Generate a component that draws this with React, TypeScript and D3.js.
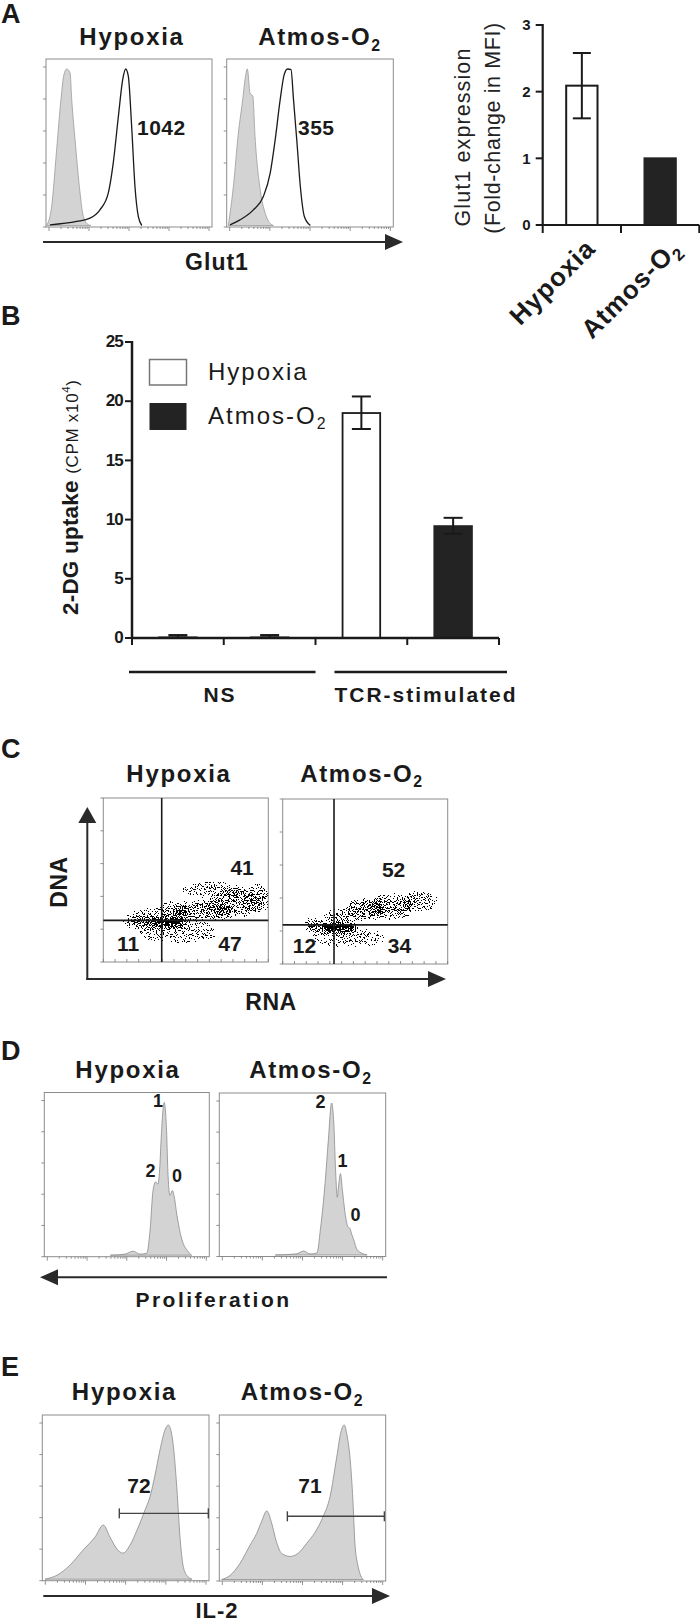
import React from "react";
import * as d3 from "d3";

const FONT = "'Liberation Sans', Arial, Helvetica, sans-serif";
const INK = "#1a1a1a";
const BAR_DARK = "#232323";
const FLOW_FILL = "#d3d3d3";

type Pt = [number, number];
type Box = [number, number, number, number];

// ================= DATA =================
const conditions = ["Hypoxia", "Atmos-O2"];

// A – Glut1 flow histograms [x: % of log axis, y: % of mode]
const glutIsotypeHypoxia: Pt[] = [[0.4, 0], [3.4, 12.1], [6.4, 48.4], [9.0, 80.4], [10.8, 96.4], [12.5, 100], [14.5, 97.6], [15.5, 80.4], [17.5, 54.8], [20.1, 24.9], [22.5, 5.8], [25.5, 0.5], [27, 0]];
const glutStainHypoxia: Pt[] = [[2.4, 0.4], [18.5, 2.6], [26.5, 4.7], [32.5, 10], [37.5, 20.7], [40.5, 39.9], [43.6, 69.7], [46.2, 93.2], [48, 100], [49.6, 95.3], [51.6, 63.3], [53.6, 24.9], [55.6, 5.8], [57.7, 0]];
const glutIsotypeAtmos: Pt[] = [[1, 0], [4, 24.9], [7, 59.1], [9.6, 80.4], [11, 93.2], [12.4, 100], [14, 84.7], [15.7, 82.5], [17, 56.9], [20.1, 22.8], [23.1, 7.9], [27.1, 0.4], [28, 0]];
const glutStainAtmos: Pt[] = [[2, 0.4], [8, 3.6], [16, 10], [22, 18.5], [26.1, 33.5], [29.1, 54.8], [32.1, 80.4], [34.5, 96.4], [36.5, 100], [38.6, 99.6], [40.1, 80.4], [42.2, 52.7], [44.2, 24.9], [46.6, 5.8], [50.2, 0]];
const glutMFI = [1042, 355];

// A – Glut1 fold change in MFI
const glutFoldChange = [2.09, 1.0];
const glutFoldLow = [1.6, 1.0];
const glutFoldHigh = [2.58, 1.0];
const glutFoldTicks = [0, 1, 2, 3];

// B – 2-DG uptake (CPM x10^4)
const uptakeBars = ["NS|Hypoxia", "NS|Atmos-O2", "TCR|Hypoxia", "TCR|Atmos-O2"];
const uptakeMean = [0.05, 0.05, 19.0, 9.45];
const uptakeLow = [0.05, 0.05, 17.65, 8.8];
const uptakeHigh = [0.25, 0.25, 20.4, 10.15];
const uptakeTicks = [0, 5, 10, 15, 20, 25];
const uptakeGroups = ["NS", "TCR-stimulated"];

// C – DNA/RNA quadrants (gate position in % of axis) and percentages
const cycleGateX = [35.4, 31.1];
const cycleGateY = [25.4, 23.7];
const cycleUpperRight = [41, 52];
const cycleLowerLeft = [11, 12];
const cycleLowerRight = [47, 34];
// density clouds [x%, y%, spread x%, spread y%, relative density]
const cycleCloudHypoxia: number[][] = [
  [39, 24.0, 11, 2.6, 2.0], [32, 24.3, 20, 3.5, 0.5], [60, 31, 18, 6, 0.5], [80, 36, 16, 8, 0.4],
  [94, 39, 7, 8, 0.3], [42, 31, 10, 5, 0.35], [24, 27, 9, 5, 0.2], [45, 18, 24, 6, 0.1], [68, 44, 20, 4, 0.2],
];
const cycleCloudAtmos: number[][] = [
  [34, 22.0, 10, 2.4, 2.0], [30, 22.3, 16, 3.3, 0.5], [50, 33, 12, 6, 0.55], [66, 35, 13, 7, 0.45],
  [83, 38, 10, 6, 0.3], [34, 29, 8, 4, 0.35], [19, 24, 6, 4, 0.2], [40, 16, 22, 5, 0.1],
];

// D – CFSE dilution histograms
const cfseHypoxia: Pt[] = [[40, 0], [48.9, 0.7], [53.8, 2.6], [58, 0.7], [62.1, 1.3], [64.1, 16.3], [65.9, 42.4], [67.5, 48], [68.9, 46.5], [70.0, 58], [70.9, 78], [72.7, 100], [74.1, 81.5], [75, 52.2], [76.2, 39.1], [77.6, 42.4], [78.6, 39.1], [80.4, 26.1], [83.5, 9.8], [86.5, 3.3], [89.3, 0]];
const cfseAtmos: Pt[] = [[33.6, 0], [46.2, 0.7], [50.6, 2.6], [54.6, 0.7], [58.7, 1.3], [60.7, 16.3], [63.7, 49], [65.5, 75], [67.5, 100], [68.7, 89], [69.9, 55.4], [70.9, 38], [71.7, 45.6], [72.8, 53.5], [74, 42.4], [75.8, 26], [77.3, 18.5], [78.5, 17.5], [79.6, 13.5], [80.8, 10], [82.9, 3.3], [88.8, 0]];
const cfseDivisions = ["1", "2", "0"];
const cfseDivisionsAtmos = ["2", "1", "0"];

// E – IL-2 histograms
const il2Hypoxia: Pt[] = [[1.6, 0], [8.8, 2.6], [16.6, 9.1], [24.4, 18.8], [31.6, 27.3], [36.6, 35.1], [40.6, 27.3], [45.4, 18.8], [48.4, 16.9], [52.6, 22.1], [56.8, 31.8], [61.6, 44.8], [64.6, 53.4], [67.6, 67.5], [70.6, 83.8], [73.6, 96.8], [75.6, 100], [78.4, 88.3], [80.8, 57.8], [82.6, 27.3], [84.4, 9.1], [86.6, 2.6], [89.8, 0]];
const il2Atmos: Pt[] = [[1.4, 0], [6.4, 2.6], [12.4, 10.4], [18.4, 22.1], [22.5, 29.9], [25.7, 38.3], [28.5, 44.4], [31.5, 36.4], [34.1, 25.3], [37.5, 16.9], [42.5, 14.9], [47.3, 16.9], [52.5, 23.4], [57.5, 30.5], [62.3, 40.5], [66.5, 53.4], [70.6, 79.4], [73.1, 95.5], [75.1, 100], [76.7, 93.5], [78.5, 79.4], [80.3, 51.3], [81.5, 23.4], [83.3, 9.1], [84.5, 3.9], [86.5, 0]];
const il2GateStart = [46.2, 40.9];
const il2GateEnd = [99.6, 99.2];
const il2GateLevel = [42.7, 40.9];
const il2Positive = [72, 71];

// ================= HELPERS =================
function histScales(b: Box) {
  const x = d3.scaleLinear().domain([0, 100]).range([b[0], b[2]]);
  const y = d3.scaleLinear().domain([0, 100]).range([b[3] - 1.5, b[1] + 10]);
  return { x, y };
}

function Frame({ b }: { b: Box }) {
  const lx = d3.scaleLog().domain([1, 1e4]).range([b[0] + 3, b[2] - 3]);
  const ly = d3.scaleLinear().domain([0, 100]).range([b[3], b[1] + 8]);
  const bt = lx.ticks();
  const lt = ly.ticks(5);
  return (
    <g>
      <rect x={b[0]} y={b[1]} width={b[2] - b[0]} height={b[3] - b[1]} fill="none" stroke="#8c8c8c" strokeWidth={1} />
      {bt.map((t, i) => {
        const lg = Math.log10(t);
        const major = Math.abs(lg - Math.round(lg)) < 1e-9;
        return <line key={"b" + i} x1={lx(t)} x2={lx(t)} y1={b[3]} y2={b[3] + (major ? 4 : 2)} stroke="#777" strokeWidth={0.8} />;
      })}
      {lt.map((t, i) => (
        <line key={"l" + i} x1={b[0] - 3} x2={b[0]} y1={ly(t)} y2={ly(t)} stroke="#777" strokeWidth={0.8} />
      ))}
    </g>
  );
}

function Arrow({ x1, y1, x2, y2, head = 18, half = 8, color = "#2a2a2a", width = 2 }: any) {
  const dx = x2 - x1, dy = y2 - y1, L = Math.hypot(dx, dy), ux = dx / L, uy = dy / L;
  const bx = x2 - ux * head, by = y2 - uy * head;
  const px = -uy, py = ux;
  return (
    <g>
      <line x1={x1} y1={y1} x2={bx + ux} y2={by + uy} stroke={color} strokeWidth={width} />
      <polygon points={`${x2},${y2} ${bx + px * half},${by + py * half} ${bx - px * half},${by - py * half}`} fill={color} />
    </g>
  );
}

function Cond({ name, x = 0, y = 0, size, weight = "bold", anchor = "middle", ls = 1.7, transform }: any) {
  const common = { x, y, fontSize: size, fontWeight: weight, textAnchor: anchor, letterSpacing: ls, fill: INK, transform };
  if (name === "Atmos-O2") {
    return (
      <text {...common}>
        <tspan>Atmos-O</tspan>
        <tspan fontSize={size * 0.66} dy={size * 0.24}>2</tspan>
      </text>
    );
  }
  return <text {...common}>{name}</text>;
}

function PanelLetter({ t, y }: { t: string; y: number }) {
  return <text x={1} y={y} fontSize={27} fontWeight="bold" fill={INK}>{t}</text>;
}

// ================= PANEL A =================
function PanelA() {
  const boxes: Box[] = [[46, 59, 212, 227], [226.7, 59, 393.3, 227]];
  const iso = [glutIsotypeHypoxia, glutIsotypeAtmos];
  const stain = [glutStainHypoxia, glutStainAtmos];
  const titleX = [132, 320];
  const mfiPos: Pt[] = [[54.8, 57.8], [42.8, 57.8]];

  const xA = d3.scaleBand().domain(conditions).range([542.7, 699.3]).paddingInner(0.6).paddingOuter(0.3);
  const yA = d3.scaleLinear().domain([0, 3]).range([225, 25]);
  const step = xA.step();
  const r0 = xA.range()[0];
  const labelDx = [15, 22];

  return (
    <g>
      <PanelLetter t="A" y={23} />
      {boxes.map((b, i) => {
        const { x, y } = histScales(b);
        const area = d3.area<Pt>().x((d) => x(d[0])).y0(y(0)).y1((d) => y(d[1])).curve(d3.curveMonotoneX);
        const line = d3.line<Pt>().x((d) => x(d[0])).y((d) => y(d[1])).curve(d3.curveMonotoneX);
        return (
          <g key={i}>
            <Cond name={conditions[i]} x={titleX[i]} y={45} size={24} />
            <path d={area(iso[i]) || ""} fill={FLOW_FILL} stroke="#9a9a9a" strokeWidth={0.8} />
            <path d={line(stain[i]) || ""} fill="none" stroke={INK} strokeWidth={1.3} />
            <Frame b={b} />
            <text x={x(mfiPos[i][0])} y={y(mfiPos[i][1])} fontSize={21} fontWeight="bold" fill={INK} letterSpacing={0.5}>{glutMFI[i]}</text>
          </g>
        );
      })}
      <Arrow x1={43} y1={242} x2={403} y2={242} head={18} half={8} />
      <text x={217} y={270} fontSize={23} fontWeight="bold" textAnchor="middle" fill={INK} letterSpacing={1}>Glut1</text>

      {/* bar chart */}
      <g>
        <text transform="translate(470,137) rotate(-90)" fontSize={21.5} textAnchor="middle" fill="#222" letterSpacing={1.1}>Glut1 expression</text>
        <text transform="translate(500,128) rotate(-90)" fontSize={21.5} textAnchor="middle" fill="#222" letterSpacing={0.6}>(Fold-change in MFI)</text>
        {conditions.map((c, i) => {
          const x0 = xA(c) as number;
          const cx = x0 + xA.bandwidth() / 2;
          return (
            <g key={c}>
              <rect x={x0} y={yA(glutFoldChange[i])} width={xA.bandwidth()} height={yA(0) - yA(glutFoldChange[i])}
                fill={i === 0 ? "#fff" : BAR_DARK} stroke={i === 0 ? INK : BAR_DARK} strokeWidth={2} />
              {glutFoldHigh[i] > glutFoldLow[i] && (
                <g stroke={INK} strokeWidth={2}>
                  <line x1={cx} x2={cx} y1={yA(glutFoldLow[i])} y2={yA(glutFoldHigh[i])} />
                  <line x1={cx - 9} x2={cx + 9} y1={yA(glutFoldHigh[i])} y2={yA(glutFoldHigh[i])} />
                  <line x1={cx - 9} x2={cx + 9} y1={yA(glutFoldLow[i])} y2={yA(glutFoldLow[i])} />
                </g>
              )}
              <Cond name={c} size={26} anchor="end" ls={1} transform={`translate(${cx + labelDx[i]},250) rotate(-45)`} />
            </g>
          );
        })}
        <line x1={r0} x2={r0} y1={yA(3) - 1} y2={yA(0) + 1} stroke={INK} strokeWidth={2.2} />
        <line x1={r0} x2={xA.range()[1]} y1={yA(0)} y2={yA(0)} stroke={INK} strokeWidth={2.2} />
        {glutFoldTicks.map((t) => (
          <g key={t}>
            <line x1={r0 - 7} x2={r0} y1={yA(t)} y2={yA(t)} stroke={INK} strokeWidth={2} />
            <text x={r0 - 12} y={yA(t)} dy="0.36em" fontSize={15} fontWeight="bold" textAnchor="end" fill={INK}>{t}</text>
          </g>
        ))}
        {d3.range(0, conditions.length + 1).map((k) => (
          <line key={k} x1={r0 + k * step} x2={r0 + k * step} y1={yA(0)} y2={yA(0) + 8} stroke={INK} strokeWidth={2} />
        ))}
      </g>
    </g>
  );
}

// ================= PANEL B =================
function PanelB() {
  const xB = d3.scaleBand().domain(uptakeBars).range([132, 499]).paddingInner(0.59).paddingOuter(0.295);
  const yB = d3.scaleLinear().domain([0, 25]).range([638, 342]);
  const r0 = xB.range()[0];
  const r1 = xB.range()[1];
  const step = xB.step();
  const groupSpan: Pt[] = [[r0 - 3, r0 + 2 * step], [r0 + 2 * step + 19, r1 + 8]];
  return (
    <g>
      <PanelLetter t="B" y={325} />
      <text transform="translate(78,615) rotate(-90)" fill={INK}>
        <tspan fontSize={22.5} fontWeight="bold" letterSpacing={0.2}>2-DG uptake </tspan>
        <tspan fontSize={17} letterSpacing={0.7}>(CPM x10</tspan>
        <tspan fontSize={11.5} dy={-8} letterSpacing={0.5}>4</tspan>
        <tspan fontSize={17} dy={8}>)</tspan>
      </text>
      {uptakeBars.map((k, i) => {
        const x0 = xB(k) as number;
        const cx = x0 + xB.bandwidth() / 2;
        const hyp = k.endsWith("Hypoxia");
        return (
          <g key={k}>
            <rect x={x0} y={yB(uptakeMean[i])} width={xB.bandwidth()} height={yB(0) - yB(uptakeMean[i])}
              fill={hyp ? "#fff" : BAR_DARK} stroke={hyp ? INK : BAR_DARK} strokeWidth={1.8} />
            <g stroke={INK} strokeWidth={2}>
              <line x1={cx} x2={cx} y1={yB(uptakeLow[i])} y2={yB(uptakeHigh[i])} />
              <line x1={cx - 9.5} x2={cx + 9.5} y1={yB(uptakeHigh[i])} y2={yB(uptakeHigh[i])} />
              <line x1={cx - 9.5} x2={cx + 9.5} y1={yB(uptakeLow[i])} y2={yB(uptakeLow[i])} />
            </g>
          </g>
        );
      })}
      <line x1={r0} x2={r0} y1={yB(25) - 1} y2={yB(0) + 1} stroke={INK} strokeWidth={2.5} />
      <line x1={r0} x2={r1} y1={yB(0)} y2={yB(0)} stroke={INK} strokeWidth={2.5} />
      {uptakeTicks.map((t) => (
        <g key={t}>
          <line x1={r0 - 7} x2={r0} y1={yB(t)} y2={yB(t)} stroke={INK} strokeWidth={2} />
          <text x={r0 - 9} y={yB(t)} dy="0.3em" fontSize={17} fontWeight="bold" textAnchor="end" fill={INK} letterSpacing={-0.8}>{t}</text>
        </g>
      ))}
      {d3.range(0, uptakeBars.length + 1).map((k) => (
        <line key={k} x1={r0 + k * step} x2={r0 + k * step} y1={yB(0)} y2={yB(0) + 7} stroke={INK} strokeWidth={2} />
      ))}
      {uptakeGroups.map((g, i) => (
        <g key={g}>
          <line x1={groupSpan[i][0]} x2={groupSpan[i][1]} y1={672} y2={672} stroke={INK} strokeWidth={2.5} />
          <text x={i === 0 ? 220 : 426} y={701.5} fontSize={21} fontWeight="bold" textAnchor="middle" fill={INK} letterSpacing={2}>{g}</text>
        </g>
      ))}
      {/* legend */}
      <rect x={149.5} y={359.5} width={37} height={25.5} fill="#fff" stroke="#777" strokeWidth={1.5} />
      <rect x={149.5} y={403} width={37} height={27} fill={BAR_DARK} />
      <Cond name="Hypoxia" x={208} y={379.5} size={24} weight="normal" anchor="start" ls={2} />
      <Cond name="Atmos-O2" x={208} y={423.5} size={24} weight="normal" anchor="start" ls={2} />
    </g>
  );
}

// ================= PANEL C =================
function PanelC() {
  const boxes: Box[] = [[103.3, 798, 268.3, 962], [282.7, 799, 447.7, 964]];
  const clouds = [cycleCloudHypoxia, cycleCloudAtmos];
  const titleX = [179, 362];
  const urPos: Pt[] = [[84.1, 52.9], [67.2, 52.9]];
  const llPos: Pt[] = [[15.0, 6.9], [13.2, 6.8]];
  const lrPos: Pt[] = [[76.8, 6.9], [70.8, 6.8]];
  return (
    <g>
      <PanelLetter t="C" y={758} />
      {boxes.map((b, i) => {
        const x = d3.scaleLinear().domain([0, 100]).range([b[0], b[2]]);
        const y = d3.scaleLinear().domain([0, 100]).range([b[3], b[1]]);
        const bottomTicks = d3.range(0, 100.01, 100 / 14);
        return (
          <g key={i}>
            <Cond name={conditions[i]} x={titleX[i]} y={781.5} size={24} />
            <clipPath id={`clipC${i}`}>
              <rect x={b[0]} y={b[1]} width={b[2] - b[0]} height={b[3] - b[1]} />
            </clipPath>
            <g clipPath={`url(#clipC${i})`}>
              <g filter="url(#speckle)">
                {clouds[i].map((c, k) => (
                  <ellipse key={k} cx={x(c[0])} cy={y(c[1])} rx={x(c[2]) - x(0)} ry={y(0) - y(c[3])} fill="#000" fillOpacity={Math.min(1, 0.25 + 0.45 * c[4])} />
                ))}
              </g>
            </g>
            <rect x={b[0]} y={b[1]} width={b[2] - b[0]} height={b[3] - b[1]} fill="none" stroke="#8c8c8c" strokeWidth={1} />
            {y.ticks(5).map((t) => (
              <line key={"l" + t} x1={b[0] - 3} x2={b[0]} y1={y(t)} y2={y(t)} stroke="#777" strokeWidth={0.8} />
            ))}
            {bottomTicks.map((t, k) => (
              <line key={"b" + k} x1={x(t)} x2={x(t)} y1={b[3]} y2={b[3] - 3} stroke="#777" strokeWidth={0.8} />
            ))}
            <line x1={x(cycleGateX[i])} x2={x(cycleGateX[i])} y1={b[1]} y2={b[3]} stroke={INK} strokeWidth={1.6} />
            <line x1={b[0]} x2={b[2]} y1={y(cycleGateY[i])} y2={y(cycleGateY[i])} stroke={INK} strokeWidth={1.6} />
            <text x={x(urPos[i][0])} y={y(urPos[i][1])} fontSize={21} fontWeight="bold" textAnchor="middle" fill={INK}>{cycleUpperRight[i]}</text>
            <text x={x(llPos[i][0])} y={y(llPos[i][1])} fontSize={21} fontWeight="bold" textAnchor="middle" fill={INK}>{cycleLowerLeft[i]}</text>
            <text x={x(lrPos[i][0])} y={y(lrPos[i][1])} fontSize={21} fontWeight="bold" textAnchor="middle" fill={INK}>{cycleLowerRight[i]}</text>
          </g>
        );
      })}
      <Arrow x1={87.3} y1={980} x2={87.3} y2={807} head={16} half={9} />
      <Arrow x1={86.3} y1={979} x2={446} y2={979} head={18} half={8} />
      <text transform="translate(67,882) rotate(-90)" fontSize={23} fontWeight="bold" textAnchor="middle" fill={INK} letterSpacing={0.5}>DNA</text>
      <text x={271} y={1010} fontSize={23} fontWeight="bold" textAnchor="middle" fill={INK} letterSpacing={0.5}>RNA</text>
    </g>
  );
}

// ================= PANEL D =================
function PanelD() {
  const boxes: Box[] = [[44.3, 1092.5, 209.3, 1256.7], [219.3, 1093, 385.7, 1256.5]];
  const series = [cfseHypoxia, cfseAtmos];
  const labels = [cfseDivisions, cfseDivisionsAtmos];
  const labelPos: Pt[][] = [
    [[68.9, 96.9], [64.4, 51.4], [80.4, 48.1]],
    [[60.8, 96.5], [74.0, 57.7], [81.9, 22.4]],
  ];
  const titleX = [128, 311];
  return (
    <g>
      <PanelLetter t="D" y={1060} />
      {boxes.map((b, i) => {
        const { x, y } = histScales(b);
        const area = d3.area<Pt>().x((d) => x(d[0])).y0(y(0)).y1((d) => y(d[1])).curve(d3.curveMonotoneX);
        return (
          <g key={i}>
            <Cond name={conditions[i]} x={titleX[i]} y={1078} size={24} />
            <path d={area(series[i]) || ""} fill={FLOW_FILL} stroke="#8a8a8a" strokeWidth={0.8} />
            <Frame b={b} />
            {labels[i].map((t, k) => (
              <text key={k} x={x(labelPos[i][k][0])} y={y(labelPos[i][k][1])} fontSize={18} fontWeight="bold" textAnchor="middle" fill={INK}>{t}</text>
            ))}
          </g>
        );
      })}
      <Arrow x1={387} y1={1277.3} x2={40} y2={1277.3} head={18} half={8} />
      <text x={213.5} y={1306.5} fontSize={21} fontWeight="bold" textAnchor="middle" fill={INK} letterSpacing={2.5}>Proliferation</text>
    </g>
  );
}

// ================= PANEL E =================
function PanelE() {
  const boxes: Box[] = [[42.3, 1415, 209, 1580.7], [219.3, 1415, 385.7, 1581]];
  const series = [il2Hypoxia, il2Atmos];
  const labelPos: Pt[] = [[58.0, 55.7], [54.5, 55.7]];
  const titleX = [124.5, 302.5];
  return (
    <g>
      <PanelLetter t="E" y={1376} />
      {boxes.map((b, i) => {
        const { x, y } = histScales(b);
        const area = d3.area<Pt>().x((d) => x(d[0])).y0(y(0)).y1((d) => y(d[1])).curve(d3.curveMonotoneX);
        const gy = y(il2GateLevel[i]);
        return (
          <g key={i}>
            <Cond name={conditions[i]} x={titleX[i]} y={1400} size={24} />
            <path d={area(series[i]) || ""} fill={FLOW_FILL} stroke="#8a8a8a" strokeWidth={0.8} />
            <Frame b={b} />
            <g stroke="#444" strokeWidth={1.4}>
              <line x1={x(il2GateStart[i])} x2={x(il2GateEnd[i])} y1={gy} y2={gy} />
              <line x1={x(il2GateStart[i])} x2={x(il2GateStart[i])} y1={gy - 5} y2={gy + 5} />
              <line x1={x(il2GateEnd[i])} x2={x(il2GateEnd[i])} y1={gy - 5} y2={gy + 5} />
            </g>
            <text x={x(labelPos[i][0])} y={y(labelPos[i][1])} fontSize={21} fontWeight="bold" textAnchor="middle" fill={INK}>{il2Positive[i]}</text>
          </g>
        );
      })}
      <Arrow x1={43.3} y1={1596} x2={390} y2={1596} head={18} half={8} />
      <text x={217} y={1618} fontSize={22} fontWeight="bold" textAnchor="middle" fill={INK} letterSpacing={1}>IL-2</text>
    </g>
  );
}

export default function App() {
  return (
    <svg width={700} height={1624} viewBox="0 0 700 1624" fontFamily={FONT}
      style={{ position: "absolute", left: 0, top: 0, display: "block", background: "#fff" }}>
      <defs>
        <filter id="speckle" filterUnits="userSpaceOnUse" x={0} y={0} width={700} height={1624} colorInterpolationFilters="sRGB">
          <feTurbulence type="fractalNoise" baseFrequency={0.85} numOctaves={2} seed={7} result="noise" />
          <feColorMatrix in="noise" type="matrix" values="0 0 0 0 0  0 0 0 0 0  0 0 0 0 0  3 0 0 0 -1" result="n" />
          <feGaussianBlur in="SourceAlpha" stdDeviation={2} result="dens" />
          <feComposite in="dens" in2="n" operator="arithmetic" k1={0} k2={6} k3={-6} k4={0} result="diff" />
          <feComponentTransfer in="diff">
            <feFuncA type="discrete" tableValues="0 1" />
          </feComponentTransfer>
        </filter>
      </defs>
      <rect width={700} height={1624} fill="#fff" />
      <PanelA />
      <PanelB />
      <PanelC />
      <PanelD />
      <PanelE />
    </svg>
  );
}
